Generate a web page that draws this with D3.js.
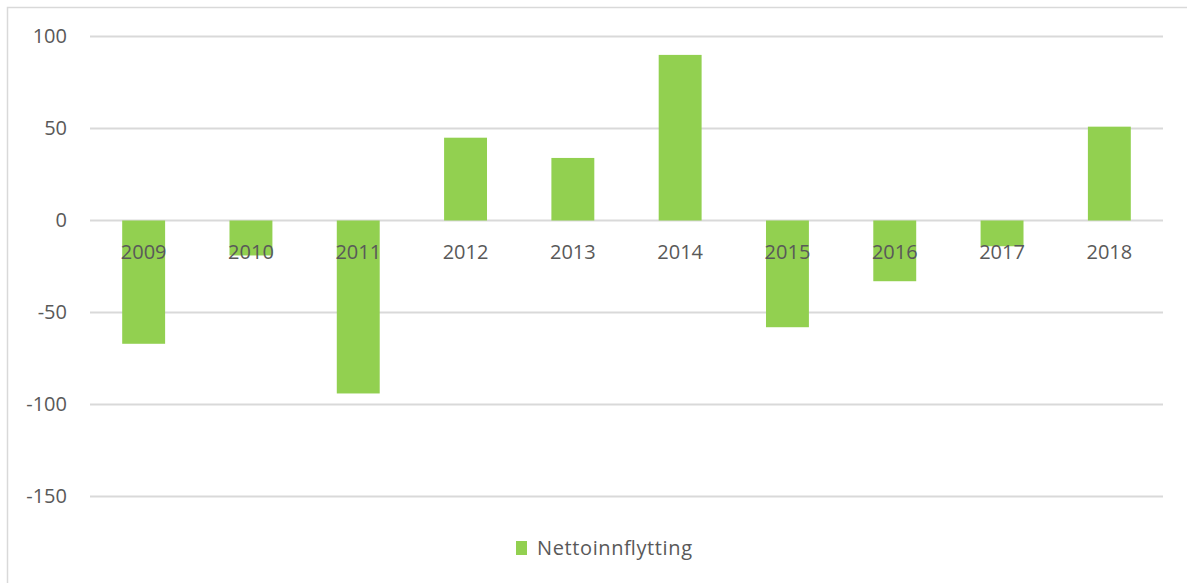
<!DOCTYPE html>
<html>
  <head>
    <meta charset="utf-8">
    <title>Nettoinnflytting</title>
    <style>
      body { margin: 0; background: #fff; }
      text { font-family: 'Open Sans', sans-serif; fill: #595959; }
    </style>
  </head>
  <body>
    <script src="https://cdn.jsdelivr.net/npm/d3@7"></script>
    <script>
      var years = ['2009', '2010', '2011', '2012', '2013', '2014', '2015', '2016', '2017', '2018'];
      var values = [-67, -19, -94, 45, 34, 90, -58, -33, -14, 51];
      var yTicks = [100, 50, 0, -50, -100, -150];
      var seriesName = 'Nettoinnflytting';

      var width = 1187,
        height = 583;

      var svg = d3.select('body').append('svg')
          .attr('width', width)
          .attr('height', height);

      // chart frame
      svg.append('rect')
          .attr('x', 7.5)
          .attr('y', 7.5)
          .attr('width', width)
          .attr('height', height)
          .attr('fill', 'none')
          .attr('stroke', '#d9d9d9')
          .attr('stroke-width', 1.5);

      var x = d3.scaleBand()
          .domain(years)
          .range([90, 1163])
          .paddingInner(0.6)
          .paddingOuter(0.3);

      var y = d3.scaleLinear()
          .domain([-150, 100])
          .range([496.5, 36.5]);

      // gridlines
      svg.append('g').selectAll('line')
          .data(yTicks)
        .enter().append('line')
          .attr('x1', 90)
          .attr('x2', 1163)
          .attr('y1', function(d) { return y(d); })
          .attr('y2', function(d) { return y(d); })
          .attr('stroke', '#d9d9d9')
          .attr('stroke-width', 2);

      // y axis labels (plain hyphen minus, like the original)
      var yAxis = d3.axisLeft(y)
          .tickValues(yTicks)
          .tickFormat(function(d) { return String(d); })
          .tickSize(0)
          .tickPadding(0);
      var gy = svg.append('g')
          .attr('transform', 'translate(67,0)')
          .call(yAxis);
      gy.select('.domain').remove();
      gy.selectAll('text')
          .attr('font-size', 20)
          .attr('font-family', null)
          .attr('fill', '#595959');

      // bars
      svg.append('g').selectAll('rect')
          .data(values)
        .enter().append('rect')
          .attr('x', function(d, i) { return x(years[i]); })
          .attr('width', x.bandwidth())
          .attr('y', function(d) { return y(Math.max(0, d)); })
          .attr('height', function(d) { return Math.abs(y(d) - y(0)); })
          .attr('fill', '#92d050');

      // x axis labels, next to the zero line
      var xAxis = d3.axisBottom(x).tickSize(0).tickPadding(0);
      var gx = svg.append('g')
          .attr('transform', 'translate(0,' + y(0) + ')')
          .call(xAxis);
      gx.select('.domain').remove();
      gx.selectAll('text')
          .attr('dy', null)
          .attr('y', 38)
          .attr('font-size', 20)
          .attr('font-family', null)
          .attr('fill', '#595959');

      // legend
      var legend = svg.append('g').attr('transform', 'translate(516,541)');
      legend.append('rect')
          .attr('width', 11)
          .attr('height', 14)
          .attr('fill', '#92d050');
      legend.append('text')
          .attr('x', 21)
          .attr('y', 14)
          .attr('font-size', 20)
          .attr('textLength', 155)
          .text(seriesName);
    </script>
  </body>
</html>
